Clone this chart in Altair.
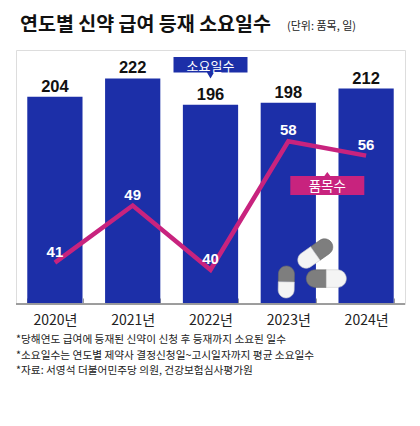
import altair as alt
import pandas as pd

years = ["2020년", "2021년", "2022년", "2023년", "2024년"]
days = [204, 222, 196, 198, 212]
items = [41, 49, 40, 58, 56]

notes = [
    "*당해연도 급여에 등재된 신약이 신청 후 등재까지 소요된 일수",
    "*소요일수는 연도별 제약사 결정신청일~고시일자까지 평균 소요일수",
    "*자료: 서영석 더불어민주당 의원, 건강보험심사평가원",
]
title_text = "연도별 신약 급여 등재 소요일수"
unit_text = "(단위: 품목, 일)"
label_days = "소요일수"
label_items = "품목수"

BLUE = "#1C2FA8"
MAGENTA = "#C8237E"
KR = "Noto Sans CJK KR"
NUM = "Liberation Sans, Arial, Noto Sans CJK KR"

W, H = 389, 254
df = pd.DataFrame({"year": years, "days": days, "items": items})

xenc = alt.X(
    "year:N",
    scale=alt.Scale(domain=years, paddingInner=0.29, paddingOuter=0.145),
    axis=alt.Axis(title=None, labelAngle=0, domain=False, tickBand="extent",
                  tickSize=6, offset=-6, tickColor="#9A9A9A", tickWidth=1,
                  labelFont=KR, labelFontSize=14, labelColor="#222222",
                  labelPadding=9, grid=False),
)
yd = alt.Scale(domain=[0, 250])
yi = alt.Scale(domain=[35.2, 70.8])

base = alt.Chart(df)

bars = base.mark_bar(color=BLUE).encode(x=xenc, y=alt.Y("days:Q", scale=yd, axis=None))
bar_labels = base.mark_text(font=NUM, fontSize=16.5, fontWeight="bold", color="#111111",
                            baseline="alphabetic", dy=-5).encode(
    x=alt.X("year:N"), y=alt.Y("days:Q", scale=yd, axis=None), text="days:Q")

axis_line = base.mark_rule(color="#9A9A9A", strokeWidth=1).encode(
    y=alt.Y(datum=0, scale=yd, axis=None), x=alt.value(0), x2=alt.value(W))

line = base.mark_line(color=MAGENTA, strokeWidth=4.5, strokeJoin="miter").encode(
    x=alt.X("year:N"), y=alt.Y("items:Q", scale=yi, axis=None))
line_labels = base.mark_text(font=NUM, fontSize=15, fontWeight="bold", color="white",
                             baseline="alphabetic", dy=-6).encode(
    x=alt.X("year:N"), y=alt.Y("items:Q", scale=yi, axis=None), text="items:Q")

one = pd.DataFrame({"k": [0]})

def box(year, val, xoff, path, size, color, text, tdy, tsize):
    pt = alt.Chart(one).mark_point(shape=path, filled=True, size=size, color=color,
                                   opacity=1, strokeWidth=0, xOffset=xoff).encode(
        x=alt.X(datum=year, type="nominal"),
        y=alt.Y(datum=val, scale=yd, axis=None))
    tx = alt.Chart(one).mark_text(font=KR, fontSize=tsize, color="white", baseline="alphabetic",
                                  dy=tdy, dx=xoff, text=text).encode(
        x=alt.X(datum=year, type="nominal"),
        y=alt.Y(datum=val, scale=yd, axis=None))
    return [pt, tx]

path_down = "M-1,-0.21 L1,-0.21 L1,0.21 L0.095,0.21 L0,0.373 L-0.095,0.21 L-1,0.21 Z"
path_up = "M-1,-0.257 L-0.08,-0.257 L0,-0.365 L0.08,-0.257 L1,-0.257 L1,0.257 L-1,0.257 Z"

boxes = box("2022년", 235.5, 0, path_down, 74 * 74, BLUE, label_days, 6, 13) + \
        box("2023년", 116.6, 39, path_up, 74 * 74, MAGENTA, label_items, 5.5, 13.5)

def half(h, side):
    s = 0.9999 - h
    if side == "R":
        return f"M0,{-h} L{s:.3f},{-h} A{h},{h} 0 0 1 {s:.3f},{h} L0,{h} Z"
    return f"M0,{-h} L{-s:.3f},{-h} A{h},{h} 0 0 0 {-s:.3f},{h} L0,{h} Z"

pills = []
# (value on day scale, x offset from 2023 band, length px, half thickness, angle, grey side)
for val, xoff, length, h, ang, grey in [(49.7, 27, 39, 0.42, 325, "R"),
                                        (21.7, -2, 32, 0.5, 271, "R"),
                                        (25.0, 38, 40, 0.44, 0, "L")]:
    white_side = "L" if grey == "R" else "R"
    for side, col, stroke in [(grey, "#7E7E7E", "#6A6A6A"), (white_side, "#F4F4F4", "#CFCFCF")]:
        pills.append(alt.Chart(one).mark_point(shape=half(h, side), filled=True, size=length * length,
                                               color=col, stroke=stroke, strokeWidth=0.6, opacity=1,
                                               angle=ang, xOffset=xoff).encode(
            x=alt.X(datum="2023년", type="nominal"),
            y=alt.Y(datum=val, scale=yd, axis=None)))

def txt(s, x, y, size, weight="normal", color="#111111"):
    return alt.Chart(one).mark_text(font=KR, fontSize=size, fontWeight=weight, color=color,
                                    align="left", baseline="alphabetic", text=s).encode(
        x=alt.value(x), y=alt.value(y))

texts = [txt(title_text, 4, -19, 19.5, "bold"), txt(unit_text, 271, -20, 11, "normal", "#222222")]
for i, n in enumerate(notes):
    texts.append(txt(n, 0, 293 + 15.5 * i, 10.7, "normal", "#222222"))

chart = alt.layer(bars, bar_labels, axis_line, line, line_labels, *boxes, *pills, *texts).resolve_scale(
    y="independent").properties(
    width=W, height=H,
    autosize=alt.AutoSizeParams(type="none"),
    padding={"left": 8, "top": 42, "right": 7, "bottom": 90},
).configure_view(stroke=None).configure(background="white")

chart.save("out.html", embed_options={"renderer": "svg", "actions": False})
